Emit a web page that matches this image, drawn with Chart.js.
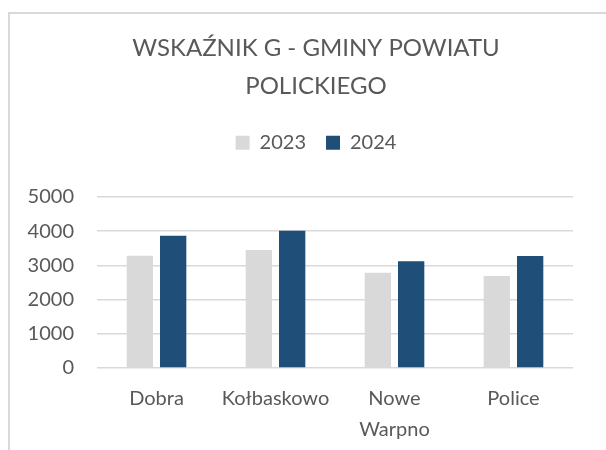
<!DOCTYPE html>
<html>
<head>
<meta charset="utf-8">
<script src="https://cdn.jsdelivr.net/npm/chart.js@4.4.0/dist/chart.umd.min.js"></script>
<style>
  html, body { margin: 0; padding: 0; background: #fff; }
  #wrap { position: relative; width: 606px; height: 450px; }
  #frame {
    position: absolute; left: 8px; top: 12px; right: 0; bottom: 0;
    border-top: 2px solid #d9d9d9; border-left: 2px solid #d9d9d9;
    pointer-events: none;
  }
</style>
</head>
<body>
<div id="wrap">
  <canvas id="chart" width="606" height="450"></canvas>
  <div id="frame"></div>
</div>
<script>
const categories = ['Dobra', 'Kołbaskowo', ['Nowe', 'Warpno'], 'Police'];
const values2023 = [3280, 3450, 2780, 2690];
const values2024 = [3860, 4010, 3120, 3270];
const yTicks = [0, 1000, 2000, 3000, 4000, 5000];

const textColor = '#595959';
const fontFamily = 'Lato, "Open Sans", sans-serif';

// more space under the legend, and title/legend centred a bit to the right
const headerLayout = {
    id: 'headerLayout',
    beforeInit(chart) {
        const fit = chart.legend.fit;
        chart.legend.fit = function () {
            fit.call(this);
            this.height += 34;
        };
    },
    afterLayout(chart) {
        [chart.titleBlock, chart.legend].forEach(b => {
            b.left = 59;
            b.right = 573;
        });
    }
};

const ctx = document.getElementById('chart').getContext('2d');

new Chart(ctx, {
    type: 'bar',
    data: {
        labels: categories,
        datasets: [
            {
                label: '2023',
                data: values2023,
                backgroundColor: '#d9d9d9',
                categoryPercentage: 0.56,
                barPercentage: 0.79
            },
            {
                label: '2024',
                data: values2024,
                backgroundColor: '#1f4e79',
                categoryPercentage: 0.56,
                barPercentage: 0.79
            }
        ]
    },
    plugins: [headerLayout],
    options: {
        responsive: false,
        animation: false,
        layout: {
            padding: { top: 29, right: 33, left: 0, bottom: 4 }
        },
        plugins: {
            title: {
                display: true,
                text: ['WSKAŹNIK G - GMINY POWIATU', 'POLICKIEGO'],
                color: textColor,
                font: { family: fontFamily, size: 24, weight: 'normal', lineHeight: 1.58 },
                padding: { top: 0, bottom: 8 }
            },
            legend: {
                display: true,
                labels: {
                    color: textColor,
                    font: { family: fontFamily, size: 20 },
                    boxWidth: 14,
                    boxHeight: 14,
                    padding: 20
                }
            },
            tooltip: { enabled: false }
        },
        scales: {
            x: {
                afterFit: (scale) => { scale.height = 78; },
                grid: { display: false },
                border: { display: false },
                ticks: {
                    color: textColor,
                    font: { family: fontFamily, size: 20, lineHeight: 1.55 },
                    maxRotation: 0,
                    autoSkip: false,
                    padding: 7
                }
            },
            y: {
                min: 0,
                max: 5000,
                afterFit: (scale) => { scale.width = 97; },
                afterBuildTicks: (scale) => {
                    scale.ticks = yTicks.map(v => ({ value: v }));
                },
                grid: { color: '#d9d9d9', lineWidth: 1.5, drawTicks: false },
                border: { display: false },
                ticks: {
                    color: textColor,
                    font: { family: fontFamily, size: 20 },
                    padding: 23,
                    callback: (v) => String(v)
                }
            }
        }
    }
});
</script>
</body>
</html>
